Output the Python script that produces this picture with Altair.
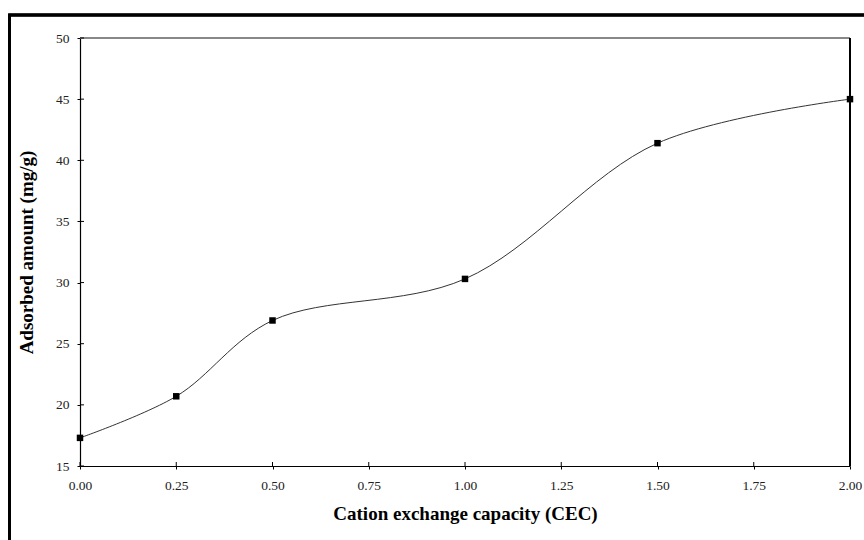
import altair as alt
import pandas as pd

# Adsorbed amount vs. cation exchange capacity
cec = [0.0, 0.25, 0.5, 1.0, 1.5, 2.0]
adsorbed = [17.3, 20.7, 26.9, 30.3, 41.4, 45.0]

x_ticks = [0.0, 0.25, 0.5, 0.75, 1.0, 1.25, 1.5, 1.75, 2.0]
y_ticks = [15, 20, 25, 30, 35, 40, 45, 50]

W, H = 770, 428
FONT = "Liberation Serif"

df = pd.DataFrame({"cec": cec, "adsorbed": adsorbed})
xt = pd.DataFrame({"t": x_ticks})
yt = pd.DataFrame({"t": y_ticks})

x_scale = alt.Scale(domain=[0, 2], nice=False, zero=False)
y_scale = alt.Scale(domain=[15, 50], nice=False, zero=False)

x_axis = alt.Axis(
    values=x_ticks, format=".2f", title="Cation exchange capacity (CEC)",
    grid=False, domainColor="black", domainWidth=1.2, tickColor="black",
    tickSize=3, labelPadding=9, labelFont=FONT, labelFontSize=13.5,
    labelColor="#222", labelFlush=False,
    titleFont=FONT, titleFontSize=19, titleFontWeight="bold",
    titleColor="black", titlePadding=13,
)
y_axis = alt.Axis(
    values=y_ticks, title="Adsorbed amount (mg/g)",
    grid=False, domainColor="black", domainWidth=1.2, tickColor="black",
    tickSize=3, labelPadding=8, labelFont=FONT, labelFontSize=13.5,
    labelColor="#222", labelFlush=False,
    titleFont=FONT, titleFontSize=19, titleFontWeight="bold",
    titleColor="black", titlePadding=19,
)

base = alt.Chart(df)

curve = base.mark_line(interpolate="catmull-rom", color="#333", strokeWidth=1).encode(
    x=alt.X("cec:Q", scale=x_scale, axis=x_axis),
    y=alt.Y("adsorbed:Q", scale=y_scale, axis=y_axis),
)
points = base.mark_square(size=42, color="black", opacity=1).encode(
    x=alt.X("cec:Q", scale=x_scale),
    y=alt.Y("adsorbed:Q", scale=y_scale),
)

# inner halves of the crossing tick marks
x_inner = alt.Chart(xt).mark_rule(color="black", strokeWidth=1).encode(
    x=alt.X("t:Q", scale=x_scale), y=alt.value(H - 4), y2=alt.value(H)
)
y_inner = alt.Chart(yt).mark_rule(color="black", strokeWidth=1).encode(
    y=alt.Y("t:Q", scale=y_scale), x=alt.value(0), x2=alt.value(4)
)

# plot-area frame: grey top edge, black right edge
top_edge = alt.Chart(df).mark_rule(color="#888", strokeWidth=1.5).encode(
    x=alt.value(0), x2=alt.value(W), y=alt.value(0)
)
right_edge = alt.Chart(df).mark_rule(color="black", strokeWidth=1.2).encode(
    x=alt.value(W), y=alt.value(0), y2=alt.value(H)
)

# outer figure border
outer = alt.Chart(df).mark_rect(fill=None, stroke="black", strokeWidth=2.5).encode(
    x=alt.value(-70.5), x2=alt.value(W + 80), y=alt.value(-23), y2=alt.value(H + 120)
)

chart = (
    alt.layer(outer, top_edge, right_edge, x_inner, y_inner, curve, points)
    .properties(
        width=W, height=H,
        autosize=alt.AutoSizeParams(type="none"),
        padding={"left": 80, "top": 38, "right": 14, "bottom": 74},
        background="white",
    )
    .configure_view(stroke=None)
)

chart.save("out.html", embed_options={"renderer": "svg", "actions": False})
